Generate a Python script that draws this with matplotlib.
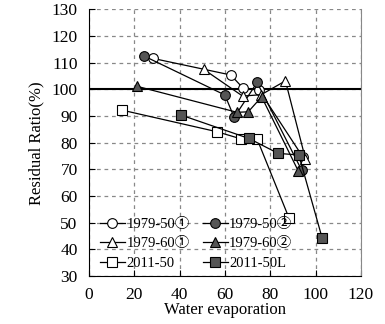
import matplotlib.pyplot as plt

plt.rcParams['font.family'] = ['Liberation Serif', 'Noto Sans CJK JP']

# residual ratio vs water evaporation
x_50_1 = [28.4, 62.6, 68.1, 75.1, 94.5]
y_50_1 = [111.6, 105.4, 100.4, 99.7, 74.5]
x_50_2 = [24.4, 60.0, 64.1, 74.2, 93.8]
y_50_2 = [112.5, 97.9, 89.5, 102.6, 69.8]
x_60_1 = [50.7, 67.8, 76.0, 86.7, 95.5]
y_60_1 = [107.5, 97.5, 98.0, 103.2, 74.0]
x_60_2 = [21.1, 65.4, 70.3, 76.2, 92.3]
y_60_2 = [101.2, 91.4, 91.6, 97.2, 69.5]
x_2011 = [14.8, 56.6, 67.3, 74.2, 88.3]
y_2011 = [92.2, 84.1, 81.4, 81.4, 51.7]
x_2011L = [40.6, 70.6, 83.5, 92.6, 102.9]
y_2011L = [90.4, 81.6, 76.0, 75.4, 44.2]

dark = '#555555'

fig = plt.figure(figsize=(3.85, 3.24), dpi=100)
ax = fig.add_axes([0.2306, 0.148, 0.707, 0.823])

kw = dict(color='black', lw=0.9, markeredgecolor='black', markeredgewidth=0.8)
l1, = ax.plot(x_50_1, y_50_1, marker='o', ms=7, markerfacecolor='white', label='1979-50①', **kw)
l2, = ax.plot(x_50_2, y_50_2, marker='o', ms=7, markerfacecolor=dark, label='1979-50②', **kw)
l3, = ax.plot(x_60_1, y_60_1, marker='^', ms=7.5, markerfacecolor='white', label='1979-60①', **kw)
l4, = ax.plot(x_60_2, y_60_2, marker='^', ms=7.5, markerfacecolor=dark, label='1979-60②', **kw)
l5, = ax.plot(x_2011, y_2011, marker='s', ms=7.5, markerfacecolor='white', label='2011-50', **kw)
l6, = ax.plot(x_2011L, y_2011L, marker='s', ms=7.5, markerfacecolor=dark, label='2011-50L', **kw)

ax.axhline(100, color='black', lw=1.5, zorder=1)

ax.set_xlim(0, 120)
ax.set_ylim(30, 130)
ax.set_xticks(range(0, 121, 20))
ax.set_yticks(range(30, 131, 10))
ax.grid(True, color='#888888', ls=(0, (3, 3)), lw=0.9)
ax.set_axisbelow(True)
ax.tick_params(direction='in', length=4, labelsize=12.5, width=0.8)
ax.tick_params(axis='x', pad=8)
ax.tick_params(axis='y', pad=8)
ax.spines['top'].set_visible(False)
ax.spines['right'].set_color('#888888')

ax.set_xlabel('Water evaporation', fontsize=12, labelpad=-1)
ax.set_ylabel('Residual Ratio(%)', fontsize=12, labelpad=5)

# two columns, filled row by row
ax.legend(handles=[l1, l3, l5, l2, l4, l6], ncol=2, loc='lower left',
          frameon=False, fontsize=10.5, handlelength=1.7, handletextpad=0.1,
          columnspacing=0.9, labelspacing=0.45, borderaxespad=0.0,
          bbox_to_anchor=(0.02, 0.0))

fig.savefig('out.png', dpi=100)
